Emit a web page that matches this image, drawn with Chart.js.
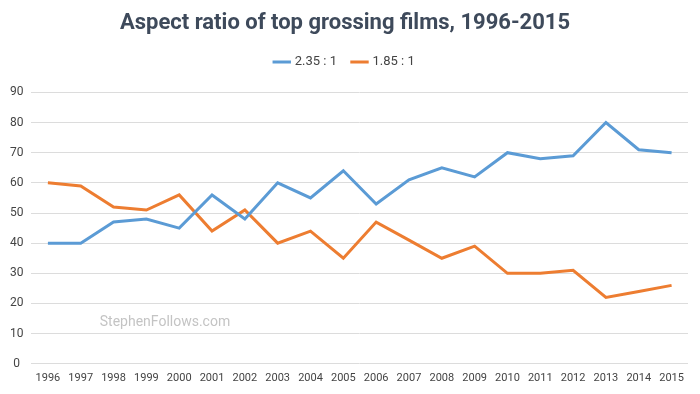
<!DOCTYPE html>
<html><head><meta charset="utf-8">
<script src="https://cdn.jsdelivr.net/npm/chart.js@4/dist/chart.umd.min.js"></script>
<style>html,body{margin:0;padding:0;background:#fff}#wrap{width:700px;height:394px}</style>
</head><body><div id="wrap"><canvas id="c" width="700" height="394"></canvas></div>
<script>
const years = ["1996","1997","1998","1999","2000","2001","2002","2003","2004","2005","2006","2007","2008","2009","2010","2011","2012","2013","2014","2015"];
const ratio235 = [40,40,47,48,45,56,48,60,55,64,53,61,65,62,70,68,69,80,71,70];
const ratio185 = [60,59,52,51,56,44,51,40,44,35,47,41,35,39,30,30,31,22,24,26];
const yTicks = [0,10,20,30,40,50,60,70,80,90];

const watermark = {
  id:'watermark',
  afterDraw(chart){
    const {ctx, scales:{x,y}} = chart;
    ctx.save();
    ctx.font = '14px Roboto';
    ctx.fillStyle = '#c4c4c4';
    ctx.textBaseline = 'middle';
    ctx.fillText('StephenFollows.com', x.getPixelForValue(1.58), y.getPixelForValue(13.7));
    ctx.restore();
  }
};
const legendMargin = {
  id:'legendMargin',
  beforeInit(chart){
    const orig = chart.legend.fit;
    chart.legend.fit = function(){ orig.call(this); this.height += 14; };
  }
};

new Chart(document.getElementById('c'), {
  type:'line',
  data:{labels:years,datasets:[
    {label:'2.35 : 1',data:ratio235,borderColor:'#5b9bd5',backgroundColor:'#5b9bd5',borderWidth:3,pointRadius:0,tension:0},
    {label:'1.85 : 1',data:ratio185,borderColor:'#ed7d31',backgroundColor:'#ed7d31',borderWidth:3,pointRadius:0,tension:0}
  ]},
  options:{
    responsive:false,animation:false,
    layout:{padding:{left:2,right:12,top:0,bottom:9}},
    plugins:{
      title:{display:true,text:'Aspect ratio of top grossing films, 1996-2015',color:'#3e4a5b',font:{family:'Roboto',size:22,weight:'bold'},padding:{top:10,bottom:3}},
      legend:{labels:{usePointStyle:true,pointStyle:'line',boxWidth:28,color:'#444',font:{family:'Roboto',size:13},padding:16}},
      tooltip:{enabled:false}
    },
    scales:{
      x:{offset:true,grid:{display:false},border:{display:false},ticks:{color:'#444',font:{family:'Roboto',size:11},maxRotation:0,autoSkip:false,padding:0}},
      y:{min:0,max:90,afterBuildTicks(s){s.ticks=yTicks.map(v=>({value:v}));},grid:{color:'#dcdcdc',drawTicks:false},border:{display:false},ticks:{color:'#444',font:{family:'Roboto',size:12},padding:8,crossAlign:'center'}}
    }
  },
  plugins:[watermark, legendMargin]
});
</script></body></html>
